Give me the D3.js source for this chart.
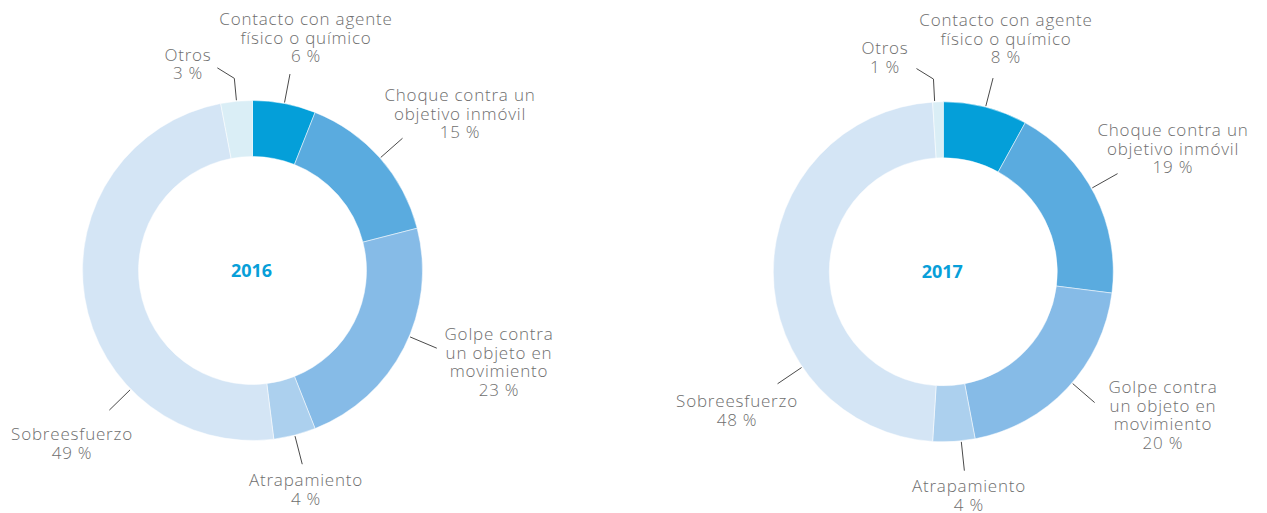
<!DOCTYPE html>
<html lang="es">
<head>
<meta charset="utf-8">
<title>Accidentes por tipo 2016–2017</title>
<script src="https://cdn.jsdelivr.net/npm/d3@7/dist/d3.min.js"></script>
<style>
  html, body { margin: 0; padding: 0; background: #ffffff; }
  svg { display: block; }
  .lbl { font-family: "Open Sans", "Lato", sans-serif; font-weight: 300; font-size: 17px; letter-spacing: 0.8px; fill: #6e6e6e; }
  .year { font-family: "Open Sans", "Lato", sans-serif; font-weight: 700; font-size: 18px; fill: #079fd9; }
  .leader { fill: none; stroke: #4a4a4a; stroke-width: 1; }
</style>
</head>
<body>
<svg id="chart" width="1267" height="513"></svg>
<script>
// Categories (clockwise from 12 o'clock) and their label lines
const categories = [
  "Contacto con agente físico o químico",
  "Choque contra un objetivo inmóvil",
  "Golpe contra un objeto en movimiento",
  "Atrapamiento",
  "Sobreesfuerzo",
  "Otros"
];
const categoryLines = [
  ["Contacto con agente", "físico o químico"],
  ["Choque contra un", "objetivo inmóvil"],
  ["Golpe contra", "un objeto en", "movimiento"],
  ["Atrapamiento"],
  ["Sobreesfuerzo"],
  ["Otros"]
];
const years = ["2016", "2017"];
const values2016 = [6, 15, 23, 4, 49, 3];
const values2017 = [8, 19, 20, 4, 48, 1];

const colors = ["#049fd9", "#5aabdf", "#86bbe7", "#acd0ee", "#d4e5f5", "#daeef6"];

// Layout: donut centres, label anchors (relative to centre) and where each leader sits in its slice
const layout = [
  {
    cx: 252.5, cy: 270.5,
    labels: [[53.5, -245.5], [207.5, -169.5], [246.5, 69.5], [53.5, 215.5], [-180.5, 169.5], [-64.5, -210]],
    leaderAt: [0.5, 0.5, 0.45, 0.5, 0.3, 0.5]
  },
  {
    cx: 943.3, cy: 271.8,
    labels: [[62.7, -245.8], [229.7, -135.8], [219.7, 121.2], [25.7, 220.2], [-206.3, 135.2], [-58.3, -217.8]],
    leaderAt: [0.5, 0.465, 0.467, 0.33, 0.303, 0.19]
  }
];

const innerR = 114, outerR = 170, lineH = 18.6;

const svg = d3.select("#chart");
const pie = d3.pie().sort(null).value(d => d);
const arc = d3.arc().innerRadius(innerR).outerRadius(outerR);
const color = d3.scaleOrdinal().domain(categories).range(colors);

[values2016, values2017].forEach((values, k) => {
  const L = layout[k];
  const g = svg.append("g").attr("transform", `translate(${L.cx},${L.cy})`);
  const arcs = pie(values);

  g.selectAll("path.slice")
    .data(arcs)
    .join("path")
    .attr("class", "slice")
    .attr("d", arc)
    .attr("fill", (d, i) => color(categories[i]))
    .attr("stroke", "#ffffff")
    .attr("stroke-width", 0.5);

  g.append("text")
    .attr("class", "year")
    .attr("text-anchor", "middle")
    .attr("x", -1)
    .attr("y", 6.5)
    .text(years[k]);

  // Leader lines: radial ticks out of each slice, "Otros" with an elbow
  const polar = (a, r) => [r * Math.sin(a), -r * Math.cos(a)];
  arcs.forEach((d, i) => {
    const a = d.startAngle + (d.endAngle - d.startAngle) * L.leaderAt[i];
    let pts;
    if (i === 5) {
      const p1 = polar(a, outerR + 1), p2 = polar(a, outerR + 23);
      pts = [p1, p2, [p2[0] - 17, p2[1] - 10.5]];
    } else {
      pts = [polar(a, outerR + 1), polar(a, outerR + 30)];
    }
    g.append("path").attr("class", "leader").attr("d", d3.line()(pts));
  });

  // Category labels with percentage
  arcs.forEach((d, i) => {
    const [lx, ly] = L.labels[i];
    const lines = categoryLines[i].concat([`${d.data} %`]);
    const t = g.append("text")
      .attr("class", "lbl")
      .attr("text-anchor", "middle")
      .attr("x", lx)
      .attr("y", ly);
    lines.forEach((s, j) => {
      t.append("tspan").attr("x", lx).attr("y", ly + j * lineH).text(s);
    });
  });
});
</script>
</body>
</html>
